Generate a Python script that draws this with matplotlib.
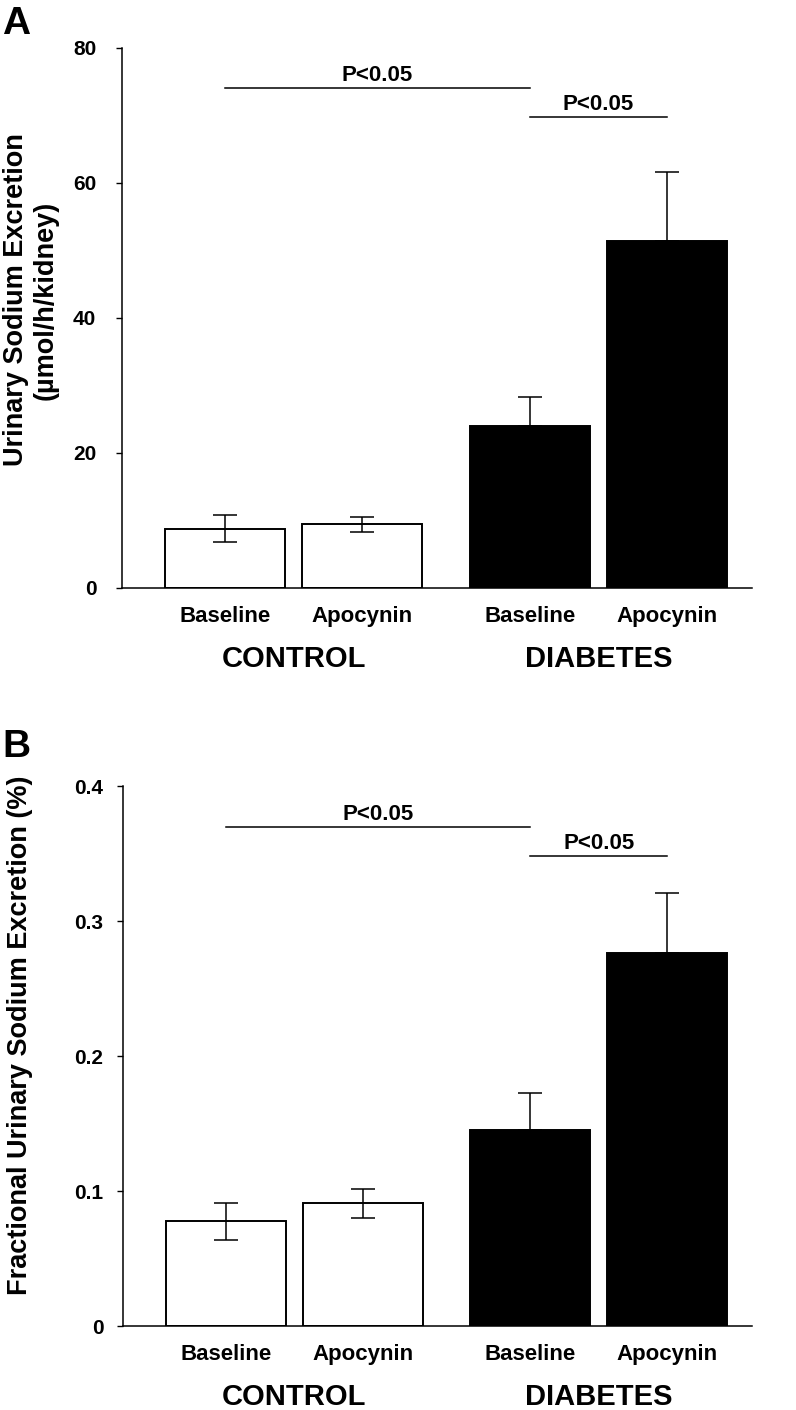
import matplotlib
matplotlib.use("Agg")
import matplotlib.pyplot as plt

plt.rcParams['font.family'] = ['Liberation Sans', 'DejaVu Sans']
plt.rcParams['font.weight'] = 'bold'

# ---- data ----
conditions = ["Baseline", "Apocynin", "Baseline", "Apocynin"]
groups = ["CONTROL", "DIABETES"]
bar_colors = ["white", "white", "black", "black"]

una_mean = [8.77, 9.42, 24.0, 51.3]
una_err_up = [2.0, 1.1, 4.2, 10.3]
una_err_low = [2.0, 1.1, 0.0, 0.0]
una_yticks = [0, 20, 40, 60, 80]
una_sig = [(0, 2, 74.0), (2, 3, 69.7)]

fe_mean = [0.0778, 0.0911, 0.1454, 0.2765]
fe_err_up = [0.0138, 0.0102, 0.0273, 0.0446]
fe_err_low = [0.0141, 0.0106, 0.0, 0.0]
fe_yticks = [0, 0.1, 0.2, 0.3, 0.4]
fe_ticklabels = ["0", "0.1", "0.2", "0.3", "0.4"]
fe_sig = [(0, 2, 0.370), (2, 3, 0.348)]
sig_text = "P<0.05"

# ---- layout ----
W, H = 796, 1410
xpos = [0, 1, 2.226, 3.226]
group_pos = [0.5, 2.726]
bar_w = 0.876

fig = plt.figure(figsize=(W / 100, H / 100), dpi=100)


def px(x):
    return x / W


def py(y):
    return 1 - y / H


def panel(rect, means, eu, el, yticks, yticklabels, ylim, ylabel, sig,
          letter, letter_y, ylabel_xy, ypad):
    ax = fig.add_axes(rect)
    ax.bar(xpos, means, width=bar_w, color=bar_colors, edgecolor="black",
           linewidth=1.4, zorder=2)
    ax.errorbar(xpos, means, yerr=[el, eu], fmt="none", ecolor="black",
                elinewidth=1.1, capsize=8.3, capthick=1.1, zorder=3)
    ax.set_xlim(-0.752, 3.847)
    ax.set_ylim(*ylim)
    ax.set_yticks(yticks)
    ax.set_yticklabels(yticklabels, fontsize=15, fontweight="bold")
    ax.set_xticks(xpos)
    ax.set_xticklabels(conditions, fontsize=16, fontweight="bold")
    ax.tick_params(axis="x", length=0, pad=13)
    ax.tick_params(axis="y", length=4.5, width=1.0, direction="out", pad=ypad)
    for s in ["top", "right"]:
        ax.spines[s].set_visible(False)
    for s in ["left", "bottom"]:
        ax.spines[s].set_linewidth(1.1)
    for g, gx in zip(groups, group_pos):
        ax.annotate(g, xy=(gx, 0), xycoords=("data", "axes fraction"),
                    xytext=(0, -41), textcoords="offset points",
                    ha="center", va="top", fontsize=21, fontweight="bold")
    for i0, i1, yv in sig:
        ax.plot([xpos[i0], xpos[i1]], [yv, yv], color="black", lw=1.1,
                clip_on=False)
        ax.annotate(sig_text, xy=((xpos[i0] + xpos[i1]) / 2, yv),
                    xytext=(0, 5), textcoords="offset points",
                    ha="center", va="baseline", fontsize=16, fontweight="bold")
    ax.set_ylabel(ylabel, fontsize=19.5, fontweight="bold", va="center",
                  multialignment="center", linespacing=1.15)
    ax.yaxis.set_label_coords(ylabel_xy[0], ylabel_xy[1],
                              transform=fig.transFigure)
    fig.text(px(2), py(letter_y), letter, fontsize=28, fontweight="bold",
             ha="left", va="baseline")
    return ax


# Panel A: spine x=122, y from 47.7 (top) to 587.7 (zero)
panel([px(122), py(587.7), px(752 - 122), (587.7 - 47.7) / H],
      una_mean, una_err_up, una_err_low, una_yticks,
      [str(t) for t in una_yticks], (0, 80),
      "Urinary Sodium Excretion\n(\u00b5mol/h/kidney)", una_sig,
      "A", 34, (px(31), py(300)), 14)

# Panel B: spine x=123, y from 786 (top) to 1326.3 (zero)
panel([px(123), py(1326.3), px(752 - 123), (1326.3 - 786) / H],
      fe_mean, fe_err_up, fe_err_low, fe_yticks, fe_ticklabels, (0, 0.4),
      "Fractional Urinary Sodium Excretion (%)", fe_sig,
      "B", 757, (px(20), py(1035)), 9.5)

fig.savefig("out.png", dpi=100)
